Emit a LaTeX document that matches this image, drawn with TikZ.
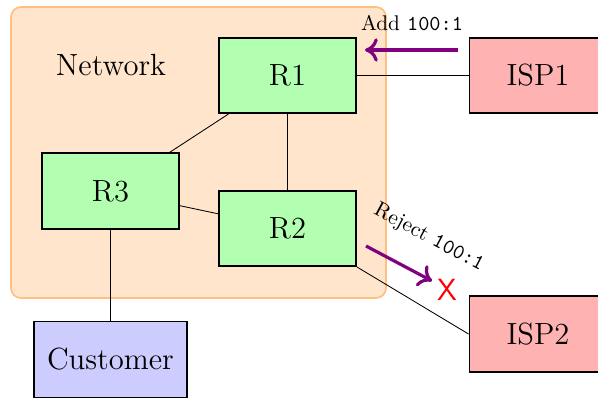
\documentclass[tikz,border=0pt]{standalone}
\usepackage{tikz}
\usetikzlibrary{arrows.meta}
\tikzset{
 netarea/.style={draw=orange!50,fill=orange!20,line width=.8pt,rounded corners=4.7pt},
 router/.style={draw,fill=green!30,line width=.9pt,minimum width=64.4pt,minimum height=35.3pt,inner sep=0,font=\Large},
 isp/.style={draw,fill=red!30,line width=.9pt,minimum width=64.4pt,minimum height=35.3pt,inner sep=0,font=\Large},
 client/.style={draw,fill=blue!20,line width=.9pt,minimum width=71.9pt,minimum height=35.7pt,inner sep=0,font=\Large},
 link/.style={line width=.4pt},
 announce/.style={draw=violet,line width=1.5pt,-{To[length=6pt,width=11pt]}},
 tag/.style={font=\normalsize,inner sep=1pt}
}

\begin{document}
\begin{tikzpicture}[x=.47pt,y=.47pt]
\path[use as bounding box] (0,0) rectangle (598,398);
\draw[netarea] (11,100) rectangle (386,391);
\node[font=\Large] (netlabel) at (111,333) {Network};
\node[router] (r1) at (287.5,322.5) {R1};
\node[router] (r2) at (287.5,169.5) {R2};
\node[router] (r3) at (110.5,207) {R3};
\node[isp] (isp1) at (538,322.5) {ISP1};
\node[isp] (isp2) at (538,64) {ISP2};
\node[client] (cust) at (110.5,38.5) {Customer};
\draw[link] (r1) -- (r3);
\draw[link] (r1) -- (r2);
\draw[link] (r3) -- (r2);
\draw[link] (r3) -- (cust);
\draw[link] (r1) -- (isp1);
\draw[link] (r2.south east) -- (isp2.west);
\coordinate (addfrom) at (458,348);
\coordinate (addto) at (365,348);
\draw[announce] (addfrom) -- (addto);
\node[tag] (addlabel) at (412,375) {Add \texttt{100:1}};
\coordinate (rejfrom) at (366,152);
\coordinate (rejto) at (432,117);
\draw[announce] (rejfrom) -- (rejto);
\node[tag,rotate=-28] (rejlabel) at (429,160) {Reject \texttt{100:1}};
\node[text=red,font=\Large\sffamily,inner sep=0] (cross) at (447,108) {X};
\end{tikzpicture}
\end{document}
